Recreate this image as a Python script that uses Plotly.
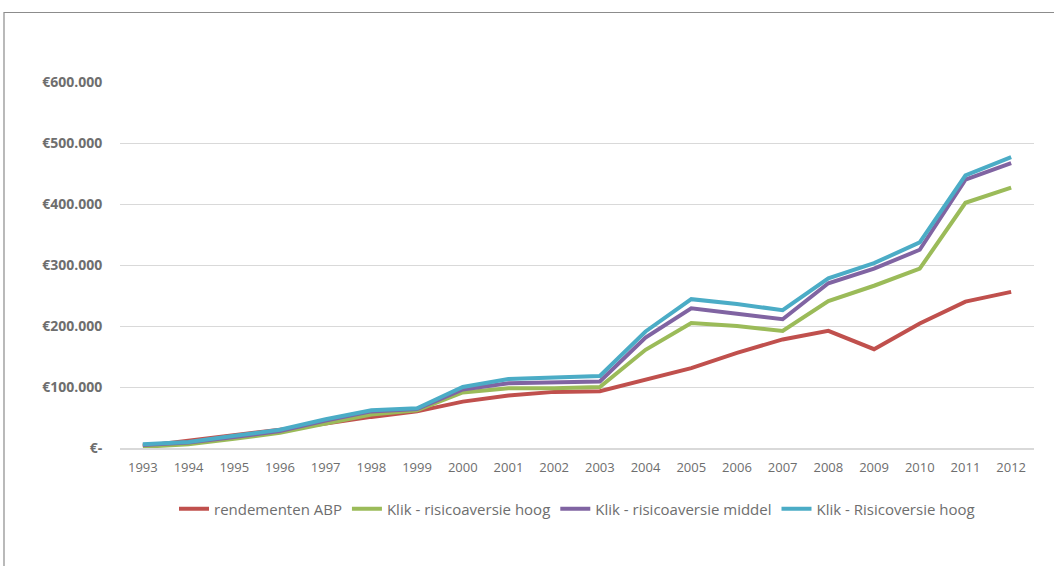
import plotly.graph_objects as go

years = [str(y) for y in range(1993, 2013)]
abp = [3000, 12000, 20000, 30000, 40000, 51000, 60000, 76000, 86000, 92000, 93000, 112000, 131000, 156000, 178000, 192000, 162000, 204000, 240000, 256000]
klik_hoog = [2000, 6000, 15000, 25000, 40000, 55000, 62000, 91000, 98000, 98000, 100000, 161000, 205000, 200000, 192000, 241000, 266000, 294000, 402000, 427000]
klik_middel = [5000, 9000, 18000, 28000, 45000, 60000, 64000, 96000, 106000, 107000, 109000, 181000, 229000, 220000, 211000, 270000, 294000, 325000, 440000, 467000]
klik_risico = [6000, 10000, 20000, 30000, 47000, 62000, 65000, 100000, 113000, 115000, 118000, 191000, 244000, 236000, 226000, 278000, 303000, 337000, 447000, 477000]

names = ["rendementen ABP", "Klik - risicoaversie hoog", "Klik - risicoaversie middel", "Klik - Risicoversie hoog"]
colors = ["#C0504D", "#9BBB59", "#8064A2", "#4BACC6"]
series = [abp, klik_hoog, klik_middel, klik_risico]

ytick_vals = [0, 100000, 200000, 300000, 400000, 500000, 600000]
ytick_text = ["€-", "€100.000", "€200.000", "€300.000", "€400.000", "€500.000", "€600.000"]

fig = go.Figure()
for name, col, vals in zip(names, colors, series):
    fig.add_trace(go.Scatter(x=years, y=vals, name=name, mode="lines",
                             line=dict(color=col, width=4)))

fig.update_layout(
    width=1054, height=566,
    margin=dict(l=120, r=20, t=82, b=118),
    paper_bgcolor="white", plot_bgcolor="white",
    font=dict(family="Open Sans", color="#6e6e6e"),
    showlegend=True,
    legend=dict(orientation="h", x=0.5, xanchor="center", y=-0.167, yanchor="middle",
                font=dict(size=15, color="#6e6e6e"), itemwidth=30, tracegroupgap=0),
    shapes=[dict(type="rect", xref="paper", yref="paper",
                 x0=-116/914, x1=1.1, y0=-0.5, y1=(448-12.5)/366,
                 line=dict(color="#8c8c8c", width=1.2), fillcolor="rgba(0,0,0,0)", layer="below")],
)
fig.update_xaxes(type="category", range=[-0.5, 19.5], showgrid=False,
                 showline=True, linecolor="#d9d9d9", linewidth=2,
                 ticks="outside", ticklen=6, tickcolor="rgba(0,0,0,0)",
                 tickfont=dict(size=13, color="#6e6e6e", family="Open Sans"))
fig.update_yaxes(range=[0, 600000], tickvals=ytick_vals, ticktext=ytick_text,
                 showgrid=True, gridcolor="#d9d9d9", gridwidth=1, zeroline=False,
                 ticks="outside", ticklen=14, tickcolor="rgba(0,0,0,0)",
                 tickfont=dict(size=14, color="#6e6e6e", family="Open Sans", weight="bold"))

fig.write_html("out.html")
